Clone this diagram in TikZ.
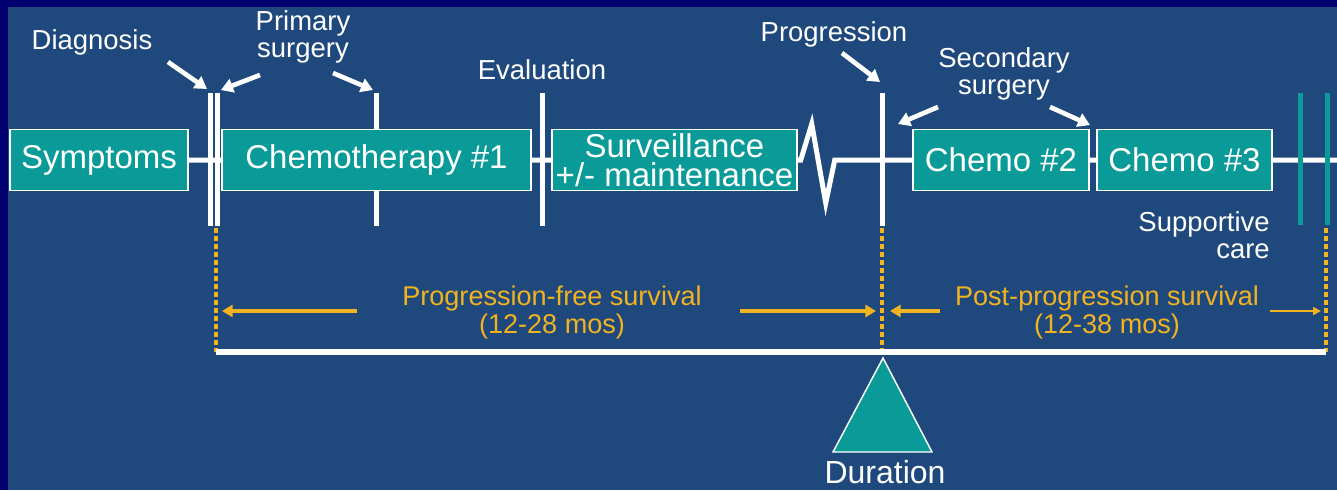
\documentclass[tikz,border=0pt]{standalone}
\usepackage{fontspec}
\setmainfont{Liberation Sans}
\usetikzlibrary{arrows.meta,calc}
\definecolor{TLFrame}{HTML}{00006E}
\definecolor{TLBack}{HTML}{1F487C}
\definecolor{TLTeal}{HTML}{0A9A97}
\definecolor{TLGold}{HTML}{F2B320}
\tikzset{
  phase/.style={draw=white,line width=1.1pt,fill=TLTeal,text=white,inner sep=0pt,
                minimum height=45.75pt,align=center,font=\fontsize{24.75}{22}\selectfont},
  event/.style={text=white,inner sep=0pt,align=center,font=\fontsize{20.6}{20}\selectfont},
  spanlabel/.style={text=TLGold,inner sep=0pt,align=center,font=\fontsize{20.3}{21}\selectfont},
  milestone/.style={white,line width=3.75pt},
  milestoneteal/.style={milestone,TLTeal},
  pointer/.style={-{Triangle[length=9pt,width=10.5pt]},white,line width=3.5pt},
  spanarrow/.style={-{Triangle[length=8pt,width=9pt]},TLGold,line width=3pt},
  spanthin/.style={-{Triangle[length=6pt,width=6pt]},TLGold,line width=1.5pt},
  dropline/.style={TLGold,line width=3pt,dash pattern=on 3.75pt off 2.25pt},
}

\begin{document}
\begin{tikzpicture}[x=0.75pt,y=-0.75pt]
  \useasboundingbox (0,0) rectangle (1337,490);
  \fill[TLFrame] (0,0) rectangle (1337,490);
  \fill[TLBack] (8,7) rectangle (1337,490);

  % milestones along the timeline
  \draw[milestone] (210.5,93) -- (210.5,226);
  \draw[milestone] (217.5,93) -- (217.5,226);
  \draw[milestone] (376,93) -- (376,226);
  \draw[milestone] (542,93) -- (542,226);
  \draw[milestone] (882,93) -- (882,226);
  \draw[milestoneteal] (1300,93) -- (1300,225);
  \draw[milestoneteal] (1327,93) -- (1327,225);

  \node[phase,minimum width=133.5pt] (symp) at (99,160) {Symptoms};
  \node[phase,minimum width=231.75pt] (chemoA) at (376.5,160) {Chemotherapy \#1};
  \node[phase,minimum width=183.75pt] (surv) at (674.5,160) {Surveillance\\+/- maintenance};
  \node[phase,minimum width=132pt] (chemoB) at (1001,160) {Chemo \#2};
  \node[phase,minimum width=131.25pt] (chemoC) at (1184.5,160) {Chemo \#3};

  \coordinate (tlend) at (1337,160);
  \draw[white,line width=3.75pt,line join=miter]
    (symp.east) -- (chemoA.west) (chemoA.east) -- (surv.west)
    (surv.east) -- ++(3,0) -- ++(11,-36) -- ++(14,79) -- ++(9,-43) -- (chemoB.west)
    (chemoB.east) -- (chemoC.west) (chemoC.east) -- (tlend);
  \draw[milestoneteal] (1300,150) -- (1300,170);
  \draw[milestoneteal] (1327,150) -- (1327,170);

  \node[event] (diag) at (92,42) {Diagnosis};
  \node[event] (primsurg) at (303,37) {Primary\\surgery};
  \node[event] (evall) at (542,70) {Evaluation};
  \node[event] (prog) at (834,34) {Progression};
  \node[event] (secsurg) at (1004,74) {Secondary\\surgery};
  \node[event,anchor=east,align=right] (suppcare) at (1270,235) {Supportive\\care};

  \coordinate (diaghead) at (207,89);
  \coordinate (primheadA) at (221,90);
  \coordinate (primheadB) at (373,90);
  \coordinate (proghead) at (880,82);
  \coordinate (secheadA) at (898,124);
  \coordinate (secheadB) at (1090,125);
  \draw[pointer] (168,62) -- (diaghead);
  \draw[pointer] (260,75) -- (primheadA);
  \draw[pointer] (333,73) -- (primheadB);
  \draw[pointer] (842,53) -- (proghead);
  \draw[pointer] (938,107) -- (secheadA);
  \draw[pointer] (1050,107) -- (secheadB);

  % survival spans
  \coordinate (pfsstart) at (216,352);
  \coordinate (pivot) at (882,352);
  \coordinate (ppsend) at (1326,352);
  \draw[dropline] (216,228) -- (pfsstart);
  \draw[dropline] (882,228) -- (pivot);
  \draw[dropline] (1326,228) -- (ppsend);
  \draw[white,line width=4.5pt] (pfsstart) -- (ppsend);

  \node[spanlabel] (pfs) at (552,312) {Progression-free survival\\(12-28 mos)};
  \node[spanlabel] (pps) at (1107,312) {Post-progression survival\\(12-38 mos)};
  \draw[spanarrow] (357,311) -- (222,311);
  \draw[spanarrow] (740,311) -- (876,311);
  \draw[spanarrow] (940,311) -- (890,311);
  \draw[spanthin] (1270,311) -- (1321,311);

  \filldraw[fill=TLTeal,draw=white,line width=1.1pt] (883,358) -- (932,452) -- (833,452) -- cycle;
  \node[text=white,inner sep=0pt,font=\fontsize{24}{24}\selectfont] (dur) at (885,472) {Duration};
\end{tikzpicture}
\end{document}
